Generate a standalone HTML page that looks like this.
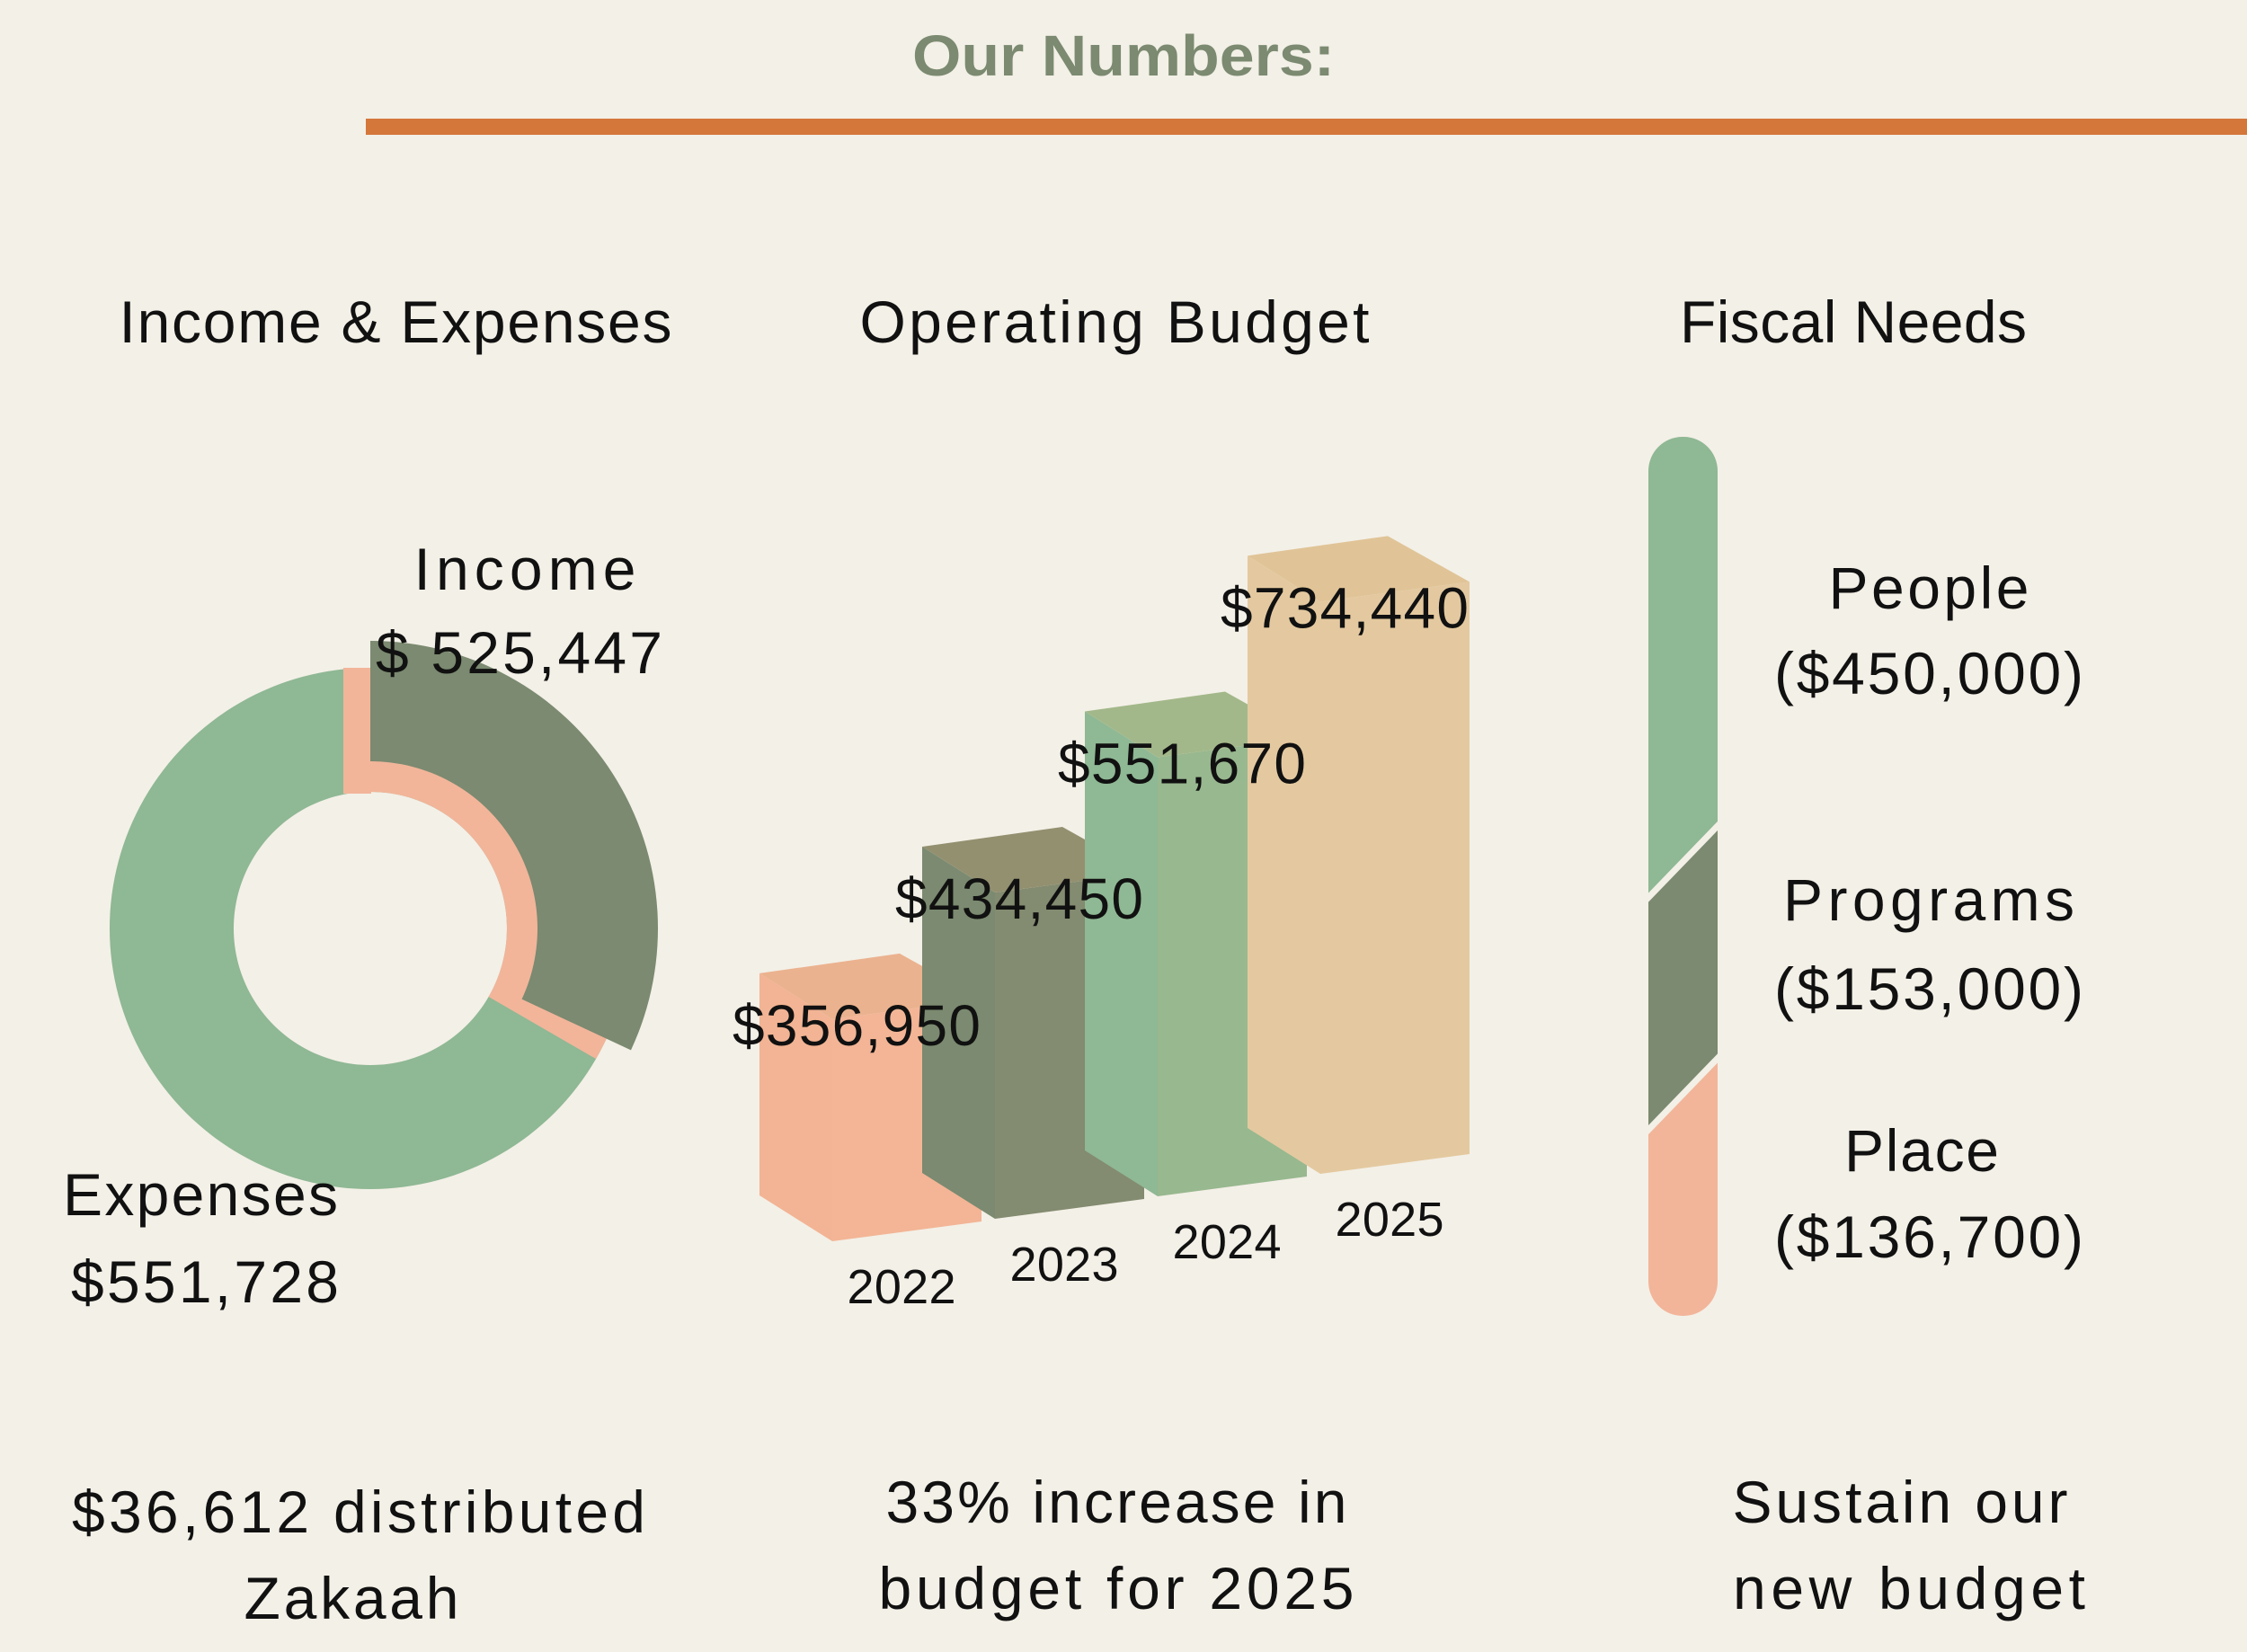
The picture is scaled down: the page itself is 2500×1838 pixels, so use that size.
<!DOCTYPE html>
<html><head><meta charset="utf-8">
<style>
html,body{margin:0;padding:0;background:#f3f0e7;}
svg{display:block;}
text{font-family:"Liberation Sans",sans-serif;fill:#111;}
</style></head>
<body>
<svg id="s" width="2500" height="1838" viewBox="0 0 2500 1838" xmlns="http://www.w3.org/2000/svg">
<rect width="2500" height="1838" fill="#f3f0e7"/>
<text x="1250" y="84" text-anchor="middle" font-size="64" font-weight="bold" style="fill:#7b8a70" textLength="470" lengthAdjust="spacingAndGlyphs">Our Numbers:</text>
<rect x="407" y="132" width="2093" height="18" fill="#d4773a"/>

<text x="440" y="381" text-anchor="middle" font-size="66" textLength="615">Income &amp; Expenses</text>
<text x="1240" y="381" text-anchor="middle" font-size="66" textLength="567">Operating Budget</text>
<text x="2062" y="381" text-anchor="middle" font-size="66" textLength="386">Fiscal Needs</text>

<g id="donut"></g>
<text x="584" y="656" text-anchor="middle" font-size="66" textLength="247">Income</text>
<text x="418" y="749" font-size="66" textLength="319">$ 525,447</text>
<text x="223" y="1352" text-anchor="middle" font-size="66" textLength="306">Expenses</text>
<text x="228" y="1449" text-anchor="middle" font-size="66" textLength="298">$551,728</text>

<g id="bars"></g>
<g id="fiscal"></g>

<text x="2146" y="677" text-anchor="middle" font-size="66" textLength="223">People</text>
<text x="2146" y="772" text-anchor="middle" font-size="66" textLength="344">($450,000)</text>
<text x="2146" y="1024" text-anchor="middle" font-size="66" textLength="324">Programs</text>
<text x="2146" y="1123" text-anchor="middle" font-size="66" textLength="344">($153,000)</text>
<text x="2138" y="1303" text-anchor="middle" font-size="66" textLength="172">Place</text>
<text x="2146" y="1399" text-anchor="middle" font-size="66" textLength="344">($136,700)</text>

<text x="399" y="1705" text-anchor="middle" font-size="66" textLength="638">$36,612 distributed</text>
<text x="391" y="1801" text-anchor="middle" font-size="66" textLength="239">Zakaah</text>
<text x="1242" y="1694" text-anchor="middle" font-size="66" textLength="513">33% increase in</text>
<text x="1242" y="1790" text-anchor="middle" font-size="66" textLength="529">budget for 2025</text>
<text x="2114" y="1694" text-anchor="middle" font-size="66" textLength="373">Sustain our</text>
<text x="2124" y="1790" text-anchor="middle" font-size="66" textLength="392">new budget</text>
</svg>
<script>
var donutLabels = ["Income", "Expenses"];
var donutValues = [525447, 551728];
var budgetYears = ["2022", "2023", "2024", "2025"];
var budgetValues = [356950, 434450, 551670, 734440];
var budgetLabels = ["$356,950", "$434,450", "$551,670", "$734,440"];
var fiscalCategories = ["People", "Programs", "Place"];
var fiscalValues = [450000, 153000, 136700];

var NS = "http://www.w3.org/2000/svg";
function mk(tag, attrs, parent){var e=document.createElementNS(NS,tag);for(var k in attrs)e.setAttribute(k,attrs[k]);parent.appendChild(e);return e;}

// Donut
(function(){
  var g=document.getElementById('donut');
  var cx=412, cy=1033;
  function pt(r,a){var t=a*Math.PI/180;return [cx+r*Math.sin(t), cy-r*Math.cos(t)];}
  function arc(r0,r1,a0,a1){
    var p0=pt(r1,a0),p1=pt(r1,a1),p2=pt(r0,a1),p3=pt(r0,a0),lg=(a1-a0)>180?1:0;
    return "M"+p0+" A"+r1+" "+r1+" 0 "+lg+" 1 "+p1+" L"+p2+" A"+r0+" "+r0+" 0 "+lg+" 0 "+p3+" Z";
  }
  var total=donutValues[0]+donutValues[1];
  var incAngle=360*donutValues[0]/total*0.655;
  var ring=mk('path',{d:arc(152,290,0,359.99),fill:'#8fb894'},g);
  
  
  var pink=mk('path',{d:arc(152,290,0,incAngle+5),fill:'#f2b59a'},g);
  
  
  var notch=mk('rect',{x:cx-30,y:cy-290,width:31,height:140,fill:'#f2b59a'},g);
  
  
  var dark=mk('path',{d:arc(186,320,0,incAngle),fill:'#7b8a70'},g);
  
  
})();

// Bars
(function(){
  var g=document.getElementById('bars');
  function hScale(v){return 30.2*Math.sqrt(Math.max(0,v/1000-290));}
  var left=['#f2b494','#7b8a70','#8fb894','#e4c9a0'];
  var right=['#f3b596','#838b70','#98b88f','#e4c9a0'];
  var top=['#ebb28f','#939070','#a3b88a','#e0c497'];
  var labels=[];
  for(var i=0;i<budgetValues.length;i++){
    var x0=845+i*181, y0=1330-i*25, h=hScale(budgetValues[i]);
    var bg=mk('g',{},g);
    
    
    var lf=mk('polygon',{points:[x0,y0-h, x0+81,y0-h+51, x0+81,y0+51, x0,y0].join(' '),fill:left[i]},bg);
    
    
    var rf=mk('polygon',{points:[x0+81,y0-h+51, x0+247,y0-h+29, x0+247,y0+29, x0+81,y0+51].join(' '),fill:right[i]},bg);
    
    
    var tf=mk('polygon',{points:[x0,y0-h, x0+156,y0-h-22, x0+247,y0-h+29, x0+81,y0-h+51].join(' '),fill:top[i]},bg);
    
    
    labels.push([x0,y0,h,i]);
  }
  labels.forEach(function(L){
    var x0=L[0],y0=L[1],h=L[2],i=L[3];
    var vl=mk('text',{x:x0+108,y:y0-h+80,'text-anchor':'middle','font-size':64,textLength:276},g);
    vl.textContent=budgetLabels[i];
    
    
    var yl=mk('text',{x:x0+158,y:y0+120,'text-anchor':'middle','font-size':54,textLength:121},g);
    yl.textContent=budgetYears[i];
    
    
  });
})();

// Fiscal stacked pill
(function(){
  var g=document.getElementById('fiscal');
  var x=1834,w=77,y=486,H=978,slant=45;
  var cols=['#8fb894','#7b8a70','#f2b59a'];
  var w0=fiscalValues.map(function(v){return 150+0.73*v/1000;});
  var sum=w0.reduce(function(a,b){return a+b;},0);
  var defs=mk('defs',{},g);
  var cp=mk('clipPath',{id:'pill'},defs);
  mk('rect',{x:x,y:y,width:w,height:H,rx:38,ry:38},cp);
  var cg=mk('g',{'clip-path':'url(#pill)'},g);
  var cur=y-60;
  var bounds=[];
  var acc=y;
  for(var i=0;i<fiscalValues.length;i++){
    var next=(i==fiscalValues.length-1)?y+H+60:acc+H*w0[i]/sum;
    var yTopL=(i==0)?cur:bounds[i-1]+slant, yTopR=(i==0)?cur:bounds[i-1]-slant;
    var yBotL=(i==fiscalValues.length-1)?next:next+slant, yBotR=(i==fiscalValues.length-1)?next:next-slant;
    var seg=mk('polygon',{points:[x-5,yTopL, x+w+5,yTopR, x+w+5,yBotR, x-5,yBotL].join(' '),fill:cols[i]},cg);
    
    
    bounds.push(next);
    acc=next;
  }
  for(var j=0;j<bounds.length-1;j++){
    var ln=mk('line',{x1:x-5,y1:bounds[j]+slant,x2:x+w+5,y2:bounds[j]-slant,stroke:'#f3f0e7','stroke-width':7},cg);
    
    
  }
})();
</script>
</body></html>
